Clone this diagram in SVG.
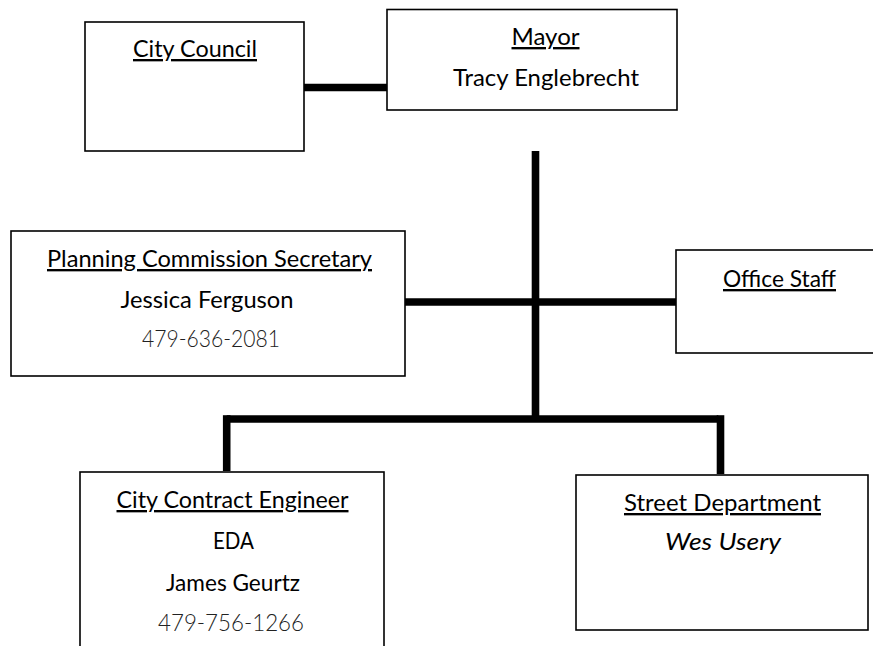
<svg xmlns="http://www.w3.org/2000/svg" width="873" height="646" viewBox="0 0 873 646">
<style>
.box{fill:#fff;stroke:#000;stroke-width:1.6}
.t{font-family:Lato,"Liberation Sans",sans-serif;font-size:23.5px;fill:#000;text-anchor:middle}
.u{text-decoration:underline}
.ph{font-weight:300;fill:#222}
.it{font-style:italic}
.c{stroke:#000;stroke-width:7.6;fill:none;stroke-linecap:butt}
</style>
<rect width="873" height="646" fill="#fff"/>
<g id="connectors">
<line class="c" x1="304" y1="87.5" x2="388" y2="87.5"/>
<line class="c" x1="535.5" y1="151" x2="535.5" y2="419"/>
<line class="c" x1="404" y1="302" x2="676" y2="302"/>
<line class="c" x1="226.7" y1="419" x2="718.3" y2="419"/>
<line class="c" x1="226.7" y1="415.2" x2="226.7" y2="471"/>
<line class="c" x1="720.5" y1="415.2" x2="720.5" y2="474"/>
</g>
<g id="city-council">
<rect class="box" x="85" y="22" width="219" height="129"/>
<text class="t u" x="195" y="57" textLength="124" lengthAdjust="spacingAndGlyphs">City Council</text>
</g>
<g id="mayor">
<rect class="box" x="387" y="9.5" width="290" height="100.5"/>
<text class="t u" x="545.5" y="45" textLength="68" lengthAdjust="spacingAndGlyphs">Mayor</text>
<text class="t" x="546" y="86" textLength="186" lengthAdjust="spacingAndGlyphs">Tracy Englebrecht</text>
</g>
<g id="planning">
<rect class="box" x="11" y="231" width="394" height="145"/>
<text class="t u" x="209.5" y="267" textLength="325" lengthAdjust="spacingAndGlyphs">Planning Commission Secretary</text>
<text class="t" x="207" y="308" textLength="173" lengthAdjust="spacingAndGlyphs">Jessica Ferguson</text>
<text class="t ph" x="211" y="347" textLength="138" lengthAdjust="spacingAndGlyphs">479-636-2081</text>
</g>
<g id="office-staff">
<rect class="box" x="676" y="250" width="210" height="103"/>
<text class="t u" x="779.5" y="287" textLength="113" lengthAdjust="spacingAndGlyphs">Office Staff</text>
</g>
<g id="engineer">
<rect class="box" x="80" y="472" width="304" height="200"/>
<text class="t u" x="232.5" y="508" textLength="232" lengthAdjust="spacingAndGlyphs">City Contract Engineer</text>
<text class="t" x="233.5" y="549" textLength="41" lengthAdjust="spacingAndGlyphs">EDA</text>
<text class="t" x="233" y="591" textLength="134" lengthAdjust="spacingAndGlyphs">James Geurtz</text>
<text class="t ph" x="231" y="631" textLength="146" lengthAdjust="spacingAndGlyphs">479-756-1266</text>
</g>
<g id="street">
<rect class="box" x="576" y="475" width="292" height="155"/>
<text class="t u" x="722.5" y="511" textLength="197" lengthAdjust="spacingAndGlyphs">Street Department</text>
<text class="t it" x="723" y="550" textLength="116" lengthAdjust="spacingAndGlyphs">Wes Usery</text>
</g>
</svg>
